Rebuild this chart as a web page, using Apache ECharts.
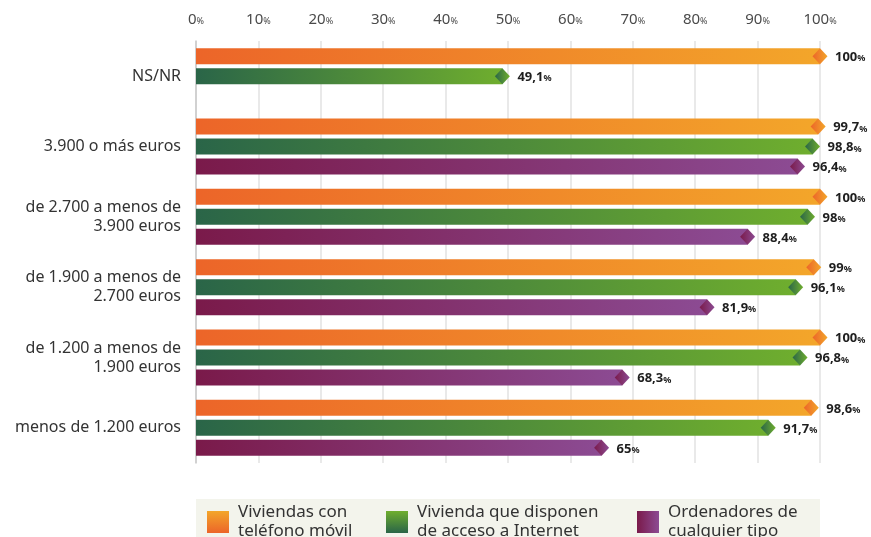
<!DOCTYPE html>
<html><head><meta charset="utf-8">
<script src="https://cdn.jsdelivr.net/npm/echarts@6/dist/echarts.min.js"></script>
<style>html,body{margin:0;padding:0;background:#fff}#c{width:871px;height:537px}</style>
</head><body><div id="c"></div>
<script>
const categories = ['NS/NR', '3.900 o más euros', 'de 2.700 a menos de\n3.900 euros', 'de 1.900 a menos de\n2.700 euros', 'de 1.200 a menos de\n1.900 euros', 'menos de 1.200 euros'];
const seriesNames = ['Viviendas con teléfono móvil', 'Vivienda que disponen de acceso a Internet', 'Ordenadores de cualquier tipo'];
const legendLabels = ['Viviendas con\nteléfono móvil', 'Vivienda que disponen\nde acceso a Internet', 'Ordenadores de\ncualquier tipo'];
const movil = [100, 99.7, 100, 99, 100, 98.6];
const internet = [49.1, 98.8, 98, 96.1, 96.8, 91.7];
const ordenadores = [null, 96.4, 88.4, 81.9, 68.3, 65];
const xTicks = [0, 10, 20, 30, 40, 50, 60, 70, 80, 90, 100];

const palettes = [
  ['#ec6529', '#f3a62a'],
  ['#2a6548', '#6fae2e'],
  ['#7a1a4a', '#8c4b93']
];
const FONT = '"Noto Sans", sans-serif';
const BAR_H = 16, PITCH = 20;

function grad(p, vertical) {
  return vertical
    ? new echarts.graphic.LinearGradient(0, 0, 0, 1, [{offset: 0, color: p[1]}, {offset: 1, color: p[0]}])
    : new echarts.graphic.LinearGradient(0, 0, 1, 0, [{offset: 0, color: p[0]}, {offset: 1, color: p[1]}]);
}
function fmt(v) { return String(v).replace('.', ','); }

function makeRender(idx) {
  return function (params, api) {
    const cat = api.value(1);
    const v = api.value(0);
    if (v == null || isNaN(v)) return null;
    const p0 = api.coord([0, cat]);
    const p1 = api.coord([v, cat]);
    const yc = p0[1] + (idx - 1) * PITCH;
    const x0 = p0[0], x1 = p1[0];
    const hw = 7.5, hh = BAR_H / 2;
    return {
      type: 'group',
      children: [
        {type: 'rect', shape: {x: x0, y: yc - hh, width: x1 - x0, height: BAR_H}, style: {fill: grad(palettes[idx])}},
        {type: 'polygon', shape: {points: [[x1 - hw, yc], [x1, yc - hh], [x1 + hw, yc], [x1, yc + hh]]}, style: {fill: grad(palettes[idx])}},
        {type: 'text', style: {
          x: x1 + 15, y: yc + 1, text: '{n|' + fmt(v) + '}{p|%}', verticalAlign: 'middle', align: 'left',
          rich: {
            n: {fontSize: 13, fontWeight: 'bold', fill: '#1e1e1e', fontFamily: FONT},
            p: {fontSize: 9, fontWeight: 'bold', fill: '#1e1e1e', fontFamily: FONT, padding: [3, 0, 0, 0]}
          }
        }}
      ]
    };
  };
}

const dataSets = [movil, internet, ordenadores];
const series = dataSets.map((arr, i) => ({
  type: 'custom',
  name: seriesNames[i],
  renderItem: makeRender(i),
  encode: {x: 0, y: 1},
  itemStyle: {color: grad(palettes[i], true)},
  data: arr.map((v, j) => [v, j])
}));

const legendLefts = [207, 386, 637];
const legends = seriesNames.map((n, i) => ({
  left: legendLefts[i], top: 503,
  icon: 'rect', itemWidth: 22, itemHeight: 22, itemGap: 10,
  padding: 0,
  selectedMode: false,
  data: [{name: n, itemStyle: {color: grad(palettes[i], i < 2)}}],
  formatter: () => legendLabels[i],
  textStyle: {fontSize: 17, lineHeight: 19, color: '#333', fontFamily: FONT, padding: [0, 0, 0, 4]}
}));

const chart = echarts.init(document.getElementById('c'), null, {renderer: 'canvas'});
chart.setOption({
  animation: false,
  backgroundColor: '#fff',
  grid: {left: 196, right: 51, top: 41, bottom: 74},
  xAxis: {
    type: 'value', position: 'top', min: 0, max: 100, interval: 10,
    axisLine: {show: false}, axisTick: {show: false},
    splitLine: {lineStyle: {color: '#e2e2e2', width: 1.5}},
    axisLabel: {
      margin: 14,
      formatter: v => xTicks.includes(v) ? '{n|' + v + '}{p|%}' : '',
      rich: {
        n: {fontSize: 15, color: '#4a4a4a', fontFamily: FONT},
        p: {fontSize: 9, color: '#4a4a4a', fontFamily: FONT, padding: [3, 0, 0, 0]}
      }
    }
  },
  yAxis: {
    type: 'category', inverse: true, data: categories,
    axisLine: {show: true, lineStyle: {color: '#c8c8c8', width: 1.5}},
    axisTick: {show: false},
    axisLabel: {fontSize: 16, lineHeight: 19, color: '#333', margin: 15, fontFamily: FONT}
  },
  legend: legends,
  graphic: [{type: 'rect', left: 196, top: 499, z: -10, shape: {width: 624, height: 60}, style: {fill: '#f3f4ec'}}],
  series: series
});
</script>
</body></html>
